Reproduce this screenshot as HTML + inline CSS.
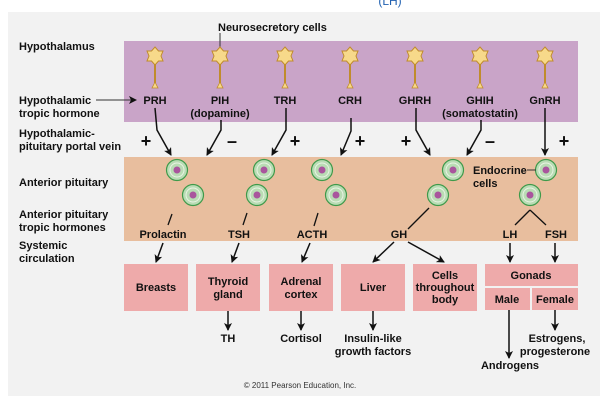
<!DOCTYPE html>
<html><head><meta charset="utf-8"><style>
html,body{margin:0;padding:0;background:#fff;}
svg{display:block;font-family:"Liberation Sans",Arial,sans-serif;font-weight:bold;}
</style></head><body>
<svg width="600" height="400" viewBox="0 0 600 400" xmlns="http://www.w3.org/2000/svg">
<defs>
<marker id="ah" markerWidth="8" markerHeight="8" refX="7" refY="4" orient="auto" markerUnits="userSpaceOnUse"><path d="M0,0 L8,4 L0,8 L2,4 Z" fill="#111"/></marker>
<g id="neu">
<polygon points="0,-9 3.5,-5 8,-5 6,0 8,5 3.5,5 0,9 -3.5,5 -8,5 -6,0 -8,-5 -3.5,-5" fill="#f7d98a" stroke="#c08c2c" stroke-width="1"/>
<line x1="0" y1="8" x2="0" y2="29" stroke="#c08c2c" stroke-width="2"/>
<polygon points="0,26 -3,32 3,32" fill="#f7d98a" stroke="#c08c2c" stroke-width="0.8"/>
</g>
<g id="cell">
<circle r="10.5" fill="#b9dcb4" stroke="#3e9a4a" stroke-width="1.2"/>
<circle r="7" fill="none" stroke="#e8f3e3" stroke-width="1"/>
<circle r="3.5" fill="#a9559d"/>
</g>
</defs>
<rect x="8" y="12" width="592" height="384" fill="#f2f2f2"/>
<text x="390" y="5" font-size="12" fill="#2060b0" font-weight="normal" text-anchor="middle">(LH)</text>
<rect x="124" y="41" width="454" height="81" fill="#c9a4c8"/>
<rect x="124" y="157" width="454" height="84" fill="#e8be9e"/>

<g font-size="11" fill="#111">
<text x="19" y="50">Hypothalamus</text>
<text x="19" y="104">Hypothalamic</text>
<text x="19" y="117">tropic hormone</text>
<text x="19" y="137">Hypothalamic-</text>
<text x="19" y="150">pituitary portal vein</text>
<text x="19" y="186">Anterior pituitary</text>
<text x="19" y="218">Anterior pituitary</text>
<text x="19" y="231">tropic hormones</text>
<text x="19" y="249">Systemic</text>
<text x="19" y="262">circulation</text>
<text x="218" y="31">Neurosecretory cells</text>
</g>
<line x1="220" y1="33" x2="220" y2="52" stroke="#333" stroke-width="1"/>
<line x1="96" y1="100" x2="136" y2="100" stroke="#333" stroke-width="1" marker-end="url(#ah)"/>

<use href="#neu" x="155" y="56"/><use href="#neu" x="220" y="56"/><use href="#neu" x="285" y="56"/>
<use href="#neu" x="350" y="56"/><use href="#neu" x="415" y="56"/><use href="#neu" x="480" y="56"/><use href="#neu" x="545" y="56"/>

<g font-size="11" fill="#111" text-anchor="middle">
<text x="155" y="104">PRH</text>
<text x="220" y="104">PIH</text><text x="220" y="117">(dopamine)</text>
<text x="285" y="104">TRH</text>
<text x="350" y="104">CRH</text>
<text x="415" y="104">GHRH</text>
<text x="480" y="104">GHIH</text><text x="480" y="117">(somatostatin)</text>
<text x="545" y="104">GnRH</text>
</g>

<g stroke="#111" stroke-width="1.5" fill="none" marker-end="url(#ah)">
<polyline points="155,108 157,130 171,155"/>
<polyline points="221,120 221,130 207,155"/>
<polyline points="286,108 286,130 272,155"/>
<polyline points="351,118 351,131 341,155"/>
<polyline points="416,108 416,130 430,155"/>
<polyline points="481,120 481,130 467,155"/>
<polyline points="545,108 545,155"/>
</g>
<g font-size="18" fill="#111" text-anchor="middle">
<text x="146" y="147">+</text><text x="232" y="147">–</text><text x="295" y="147">+</text>
<text x="360" y="147">+</text><text x="406" y="147">+</text><text x="490" y="147">–</text><text x="564" y="147">+</text>
</g>

<use href="#cell" x="177" y="170"/><use href="#cell" x="193" y="195"/>
<use href="#cell" x="264" y="170"/><use href="#cell" x="257" y="195"/>
<use href="#cell" x="322" y="170"/><use href="#cell" x="336" y="195"/>
<use href="#cell" x="453" y="170"/><use href="#cell" x="438" y="195"/>
<use href="#cell" x="546" y="170"/><use href="#cell" x="530" y="195"/>
<g font-size="11" fill="#111"><text x="473" y="174">Endocrine</text><text x="473" y="187">cells</text></g>
<line x1="527" y1="170" x2="536" y2="170" stroke="#333" stroke-width="1"/>

<g stroke="#111" stroke-width="1.3">
<line x1="172" y1="214" x2="168" y2="225"/>
<line x1="247" y1="213" x2="243" y2="225"/>
<line x1="318" y1="213" x2="314" y2="226"/>
<line x1="429" y1="208" x2="408" y2="229"/>
<line x1="530" y1="210" x2="515" y2="225"/>
<line x1="530" y1="210" x2="546" y2="225"/>
</g>
<g font-size="11" fill="#111" text-anchor="middle">
<text x="163" y="238">Prolactin</text><text x="239" y="238">TSH</text><text x="312" y="238">ACTH</text>
<text x="399" y="238">GH</text><text x="510" y="238">LH</text><text x="556" y="238">FSH</text>
</g>
<g stroke="#111" stroke-width="1.5" marker-end="url(#ah)">
<line x1="163" y1="243" x2="156" y2="262"/>
<line x1="239" y1="243" x2="232" y2="262"/>
<line x1="310" y1="243" x2="302" y2="262"/>
<line x1="394" y1="242" x2="373" y2="262"/>
<line x1="408" y1="242" x2="444" y2="262"/>
<line x1="510" y1="243" x2="510" y2="262"/>
<line x1="555" y1="243" x2="555" y2="262"/>
<line x1="228" y1="311" x2="228" y2="330"/>
<line x1="301" y1="311" x2="301" y2="330"/>
<line x1="373" y1="311" x2="373" y2="330"/>
<line x1="555" y1="310" x2="555" y2="330"/>
<line x1="509" y1="310" x2="509" y2="358"/>
</g>
<g fill="#eeaaaa">
<rect x="124" y="264" width="64" height="47"/>
<rect x="196" y="264" width="64" height="47"/>
<rect x="269" y="264" width="64" height="47"/>
<rect x="341" y="264" width="64" height="47"/>
<rect x="413" y="264" width="64" height="47"/>
<rect x="485" y="264" width="93" height="22"/>
<rect x="485" y="288" width="45" height="22"/>
<rect x="532" y="288" width="46" height="22"/>
</g>
<g font-size="11" fill="#111" text-anchor="middle">
<text x="156" y="291">Breasts</text>
<text x="228" y="285">Thyroid</text><text x="228" y="298">gland</text>
<text x="301" y="285">Adrenal</text><text x="301" y="298">cortex</text>
<text x="373" y="291">Liver</text>
<text x="445" y="279">Cells</text><text x="445" y="291">throughout</text><text x="445" y="303">body</text>
<text x="531" y="279">Gonads</text>
<text x="507" y="303">Male</text><text x="555" y="303">Female</text>
<text x="228" y="342">TH</text>
<text x="301" y="342">Cortisol</text>
<text x="373" y="342">Insulin-like</text><text x="373" y="355">growth factors</text>
<text x="557" y="342">Estrogens,</text><text x="555" y="355">progesterone</text>
<text x="510" y="369">Androgens</text>
</g>
<text x="300" y="388" font-size="8" font-weight="normal" fill="#333" text-anchor="middle">© 2011 Pearson Education, Inc.</text>
</svg>
</body></html>
